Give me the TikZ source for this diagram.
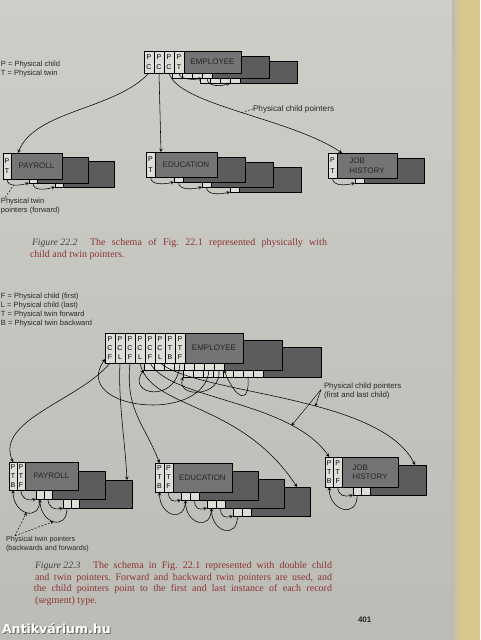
\documentclass[tikz,border=0pt]{standalone}
\usepackage{fontspec}
\setmainfont{Liberation Serif}
\setsansfont{Liberation Sans}
\newfontfamily\wmfont{DejaVu Sans}
\definecolor{pagetop}{RGB}{206,206,201}
\definecolor{pagebot}{RGB}{188,188,182}
\definecolor{band}{RGB}{216,200,142}
\definecolor{recfront}{RGB}{116,116,116}
\definecolor{recback}{RGB}{92,92,92}
\definecolor{cellfill}{RGB}{222,222,216}
\definecolor{capred}{RGB}{140,52,50}
\frenchspacing

\begin{document}
\begin{tikzpicture}[x=1pt, y=-1pt, >=stealth,
  every node/.style={inner sep=0pt, outer sep=0pt},
  cell/.style 2 args={draw=black, fill=cellfill, anchor=north west, minimum width=#1, minimum height=#2, align=center, font=\sffamily\fontsize{7}{10.5}\selectfont},
  recbox/.style 2 args={draw=black, fill=recfront, anchor=north west, minimum width=#1, minimum height=#2, align=left, text=black!85, font=\sffamily\fontsize{8}{9.5}\selectfont},
  backbox/.style={fill=recback},
  ptr/.style={->, line width=0.55pt},
  lead/.style={dashed, dash pattern=on 2pt off 1.5pt, line width=0.45pt},
  lbl/.style={anchor=base west, text=black!85, font=\sffamily\fontsize{7.5}{8.5}\selectfont},
  captext/.style={anchor=base west, text=capred, font=\fontsize{10}{11}\selectfont},
  figlabel/.style={anchor=base west, text=black!75, font=\itshape\fontsize{9.7}{11}\selectfont}]

\useasboundingbox (0,0) rectangle (480,640);
\clip (0,0) rectangle (480,640);
\shade[top color=pagetop, bottom color=pagebot] (0,0) rectangle (480,640);
\shade[left color=pagebot, right color=band] (452,0) rectangle (460,640);
\fill[band] (460,0) rectangle (480,640);

% ---------- Figure 22.2 ----------
\node[lbl] (leg1) at (1,66) {P = Physical child};
\node[lbl] (leg2) at (1,75) {T = Physical twin};

% EMPLOYEE, three occurrences
\foreach \k in {2,1} {
  \foreach \i in {1,...,4}
    \node[cell={10pt}{22pt}] (te\k\i) at ({134+10*\i+28*\k},{51+5*\k}) {};
  \node[recbox={57pt}{22pt}, backbox] (teb\k) at ({184+28*\k},{51+5*\k}) {};
}
\node[cell={10pt}{22pt}] (te01) at (144,51) {P\\C};
\node[cell={10pt}{22pt}] (te02) at (154,51) {P\\C};
\node[cell={10pt}{22pt}] (te03) at (164,51) {P\\C};
\node[cell={10pt}{22pt}] (te04) at (174,51) {P\\T};
\node[recbox={57pt}{22pt}] (teb0) at (184,51) {EMPLOYEE};
\draw[ptr] (te04.south) .. controls +(0,7) and +(-7,2) .. (te14.south west);
\draw[ptr] (te14.south) .. controls +(0,10) and +(-7,3) .. (te24.south west);

% PAYROLL
\foreach \k in {2,1} {
  \node[cell={8pt}{26pt}] (tp\k) at ({3+26*\k},{153+4*\k}) {};
  \node[recbox={51pt}{26pt}, backbox] (tpb\k) at ({11+26*\k},{153+4*\k}) {};
}
\node[cell={8pt}{26pt}] (tp0) at (3,153) {P\\T};
\node[recbox={51pt}{26pt}] (tpb0) at (11,153) {PAYROLL};
\draw[ptr] (tp0.south) .. controls +(0,9) and +(-8,2) .. (tp1.south west) coordinate[pos=0.45] (tw);
\draw[ptr] (tp1.south) .. controls +(0,9) and +(-8,2) .. (tp2.south west);
\node[lbl] (tl1) at (1,203) {Physical twin};
\node[lbl] (tl2) at (1,212) {pointers (forward)};
\draw[lead] ([xshift=4pt]tl1.north west) -- (tw);

% EDUCATION
\foreach \k in {3,2,1} {
  \node[cell={9pt}{25pt}] (td\k) at ({146+28*\k},{152+5*\k}) {};
  \node[recbox={62pt}{25pt}, backbox] (tdb\k) at ({155+28*\k},{152+5*\k}) {};
}
\node[cell={9pt}{25pt}] (td0) at (146,152) {P\\T};
\node[recbox={62pt}{25pt}] (tdb0) at (155,152) {EDUCATION};
\foreach \k/\n in {0/1,1/2,2/3}
  \draw[ptr] (td\k.south) .. controls +(0,9) and +(-8,2) .. (td\n.south west);

% JOB HISTORY
\node[cell={9pt}{25pt}] (tj1) at (355,158) {};
\node[recbox={60pt}{25pt}, backbox] (tjb1) at (364,158) {};
\node[cell={9pt}{25pt}] (tj0) at (328,153) {P\\T};
\node[recbox={60pt}{25pt}] (tjb0) at (337,153) {JOB\\HISTORY};
\draw[ptr] (tj0.south) .. controls +(0,9) and +(-8,2) .. (tj1.south west);

% child pointers
\draw[ptr] (te01.south) .. controls (115,110) and (35,110) .. ([xshift=7pt]tpb0.north west);
\draw[ptr] (te02.south) -- ([xshift=6pt]tdb0.north west);
\draw[ptr] (te03.south) .. controls (178,105) and (290,118) .. ([xshift=5pt]tjb0.north west) coordinate[pos=0.51] (cp);
\node[lbl, font=\sffamily\fontsize{8.2}{9}\selectfont] (cpl) at (253,111) {Physical child pointers};
\draw[lead] (cp) -- (cpl.west);

\node[figlabel] (f2) at (32,245) {Figure 22.2};
\node[captext] (c2a) at (90,245) {\makebox[237pt][s]{The schema of Fig. 22.1 represented physically with}};
\node[captext] (c2b) at (30,257) {child and twin pointers.};

% ---------- Figure 22.3 ----------
\node[lbl, font=\sffamily\fontsize{7.5}{9}\selectfont] (lg1) at (1,298) {F = Physical child (first)};
\node[lbl, font=\sffamily\fontsize{7.5}{9}\selectfont] (lg2) at (1,307.5) {L = Physical child (last)};
\node[lbl, font=\sffamily\fontsize{7.5}{9}\selectfont] (lg3) at (1,316.5) {T = Physical twin forward};
\node[lbl, font=\sffamily\fontsize{7.5}{9}\selectfont] (lg4) at (1,325.5) {B = Physical twin backward};

% EMPLOYEE
\foreach \k in {2,1} {
  \foreach \i in {1,...,8}
    \node[cell={10pt}{30pt}] (be\k\i) at ({95+10*\i+39*\k},{333+7*\k}) {};
  \node[recbox={58pt}{30pt}, backbox] (beb\k) at ({185+39*\k},{333+7*\k}) {};
}
\foreach \i/\ca/\cb in {1/C/F,2/C/L,3/C/F,4/C/L,5/C/F,6/C/L,7/T/B,8/T/F}
  \node[cell={10pt}{30pt}, font=\sffamily\fontsize{7}{9.3}\selectfont] (be0\i) at ({95+10*\i},333) {P\\\ca\\\cb};
\node[recbox={58pt}{30pt}] (beb0) at (185,333) {EMPLOYEE};
\draw[ptr] (be08.south) .. controls (178,405) and (125,395) .. (be11.south west);
\draw[ptr] (be17.south) .. controls (205,425) and (70,410) .. ([yshift=4pt]be01.south west);
\draw[ptr] (be18.south) .. controls (222,398) and (176,398) .. (be21.south west);
\draw[ptr] (be27.south) .. controls (250,405) and (236,400) .. (beb1.south west);

% PAYROLL
\foreach \k in {2,1} {
  \foreach \i in {1,2}
    \node[cell={8pt}{28pt}] (bp\k\i) at ({1+8*\i+27*\k},{462+9*\k}) {};
  \node[recbox={53pt}{28pt}, backbox] (bpb\k) at ({25+27*\k},{462+9*\k}) {};
}
\node[cell={8pt}{28pt}, font=\sffamily\fontsize{7}{9}\selectfont] (bp01) at (9,462) {P\\T\\B};
\node[cell={8pt}{28pt}, font=\sffamily\fontsize{7}{9}\selectfont] (bp02) at (17,462) {P\\T\\F};
\node[recbox={53pt}{28pt}] (bpb0) at (25,462) {PAYROLL};
\draw[ptr] (bp02.south) .. controls +(0,9) and +(-8,2) .. (bp11.south west);
\draw[ptr] (bp11.south) .. controls +(0,24) and +(0,24) .. (bp01.south) coordinate[pos=0.5] (r1);
\draw[ptr] (bp12.south) .. controls +(0,9) and +(-8,2) .. (bp21.south west);
\draw[ptr] (bp21.south) .. controls +(0,24) and +(0,24) .. (bp11.south) coordinate[pos=0.5] (r2);
\node[lbl, font=\sffamily\fontsize{7.2}{8}\selectfont] (tl3) at (6,541) {Physical twin pointers};
\node[lbl, font=\sffamily\fontsize{7.2}{8}\selectfont] (tl4) at (6,550) {(backwards and forwards)};
\draw[lead, ->] ([xshift=9pt]tl3.north west) -- (r1);
\draw[lead, ->] ([xshift=9pt]tl3.north west) -- (r2);

% EDUCATION
\foreach \k in {3,2,1} {
  \foreach \i in {1,2}
    \node[cell={9pt}{29pt}] (bd\k\i) at ({146+9*\i+26*\k},{463+8*\k}) {};
  \node[recbox={59pt}{29pt}, backbox] (bdb\k) at ({173+26*\k},{463+8*\k}) {};
}
\node[cell={9pt}{29pt}, font=\sffamily\fontsize{7}{9}\selectfont] (bd01) at (155,463) {P\\T\\B};
\node[cell={9pt}{29pt}, font=\sffamily\fontsize{7}{9}\selectfont] (bd02) at (164,463) {P\\T\\F};
\node[recbox={59pt}{29pt}] (bdb0) at (173,463) {EDUCATION};
\foreach \k/\n in {0/1,1/2,2/3} {
  \draw[ptr] (bd\k2.south) .. controls +(0,9) and +(-8,2) .. (bd\n1.south west);
  \draw[ptr] (bd\n1.south) .. controls +(0,24) and +(0,24) .. (bd\k1.south);
}

% JOB HISTORY
\foreach \i in {1,2}
  \node[cell={8.5pt}{30pt}] (bj1\i) at ({316.5+8.5*\i+28},465) {};
\node[recbox={56pt}{30pt}, backbox] (bjb1) at (370,465) {};
\node[cell={8.5pt}{30pt}, font=\sffamily\fontsize{7}{9.3}\selectfont] (bj01) at (325,457) {P\\T\\B};
\node[cell={8.5pt}{30pt}, font=\sffamily\fontsize{7}{9.3}\selectfont] (bj02) at (333.5,457) {P\\T\\F};
\node[recbox={56pt}{30pt}] (bjb0) at (342,457) {JOB\\HISTORY};
\draw[ptr] (bj02.south) .. controls +(0,9) and +(-8,2) .. (bj11.south west);
\draw[ptr] (bj11.south) .. controls +(0,24) and +(0,24) .. (bj01.south);

% child pointers, first and last
\draw[ptr] (be01.south) .. controls (80,400) and (-5,420) .. (bp01.north);
\draw[ptr] (be02.south) .. controls (118,400) and (125,440) .. ([xshift=-5pt]bpb2.north east);
\draw[ptr] (be03.south) .. controls (125,410) and (145,425) .. (bd01.north);
\draw[ptr] (be04.south) .. controls (150,410) and (240,400) .. ([xshift=-13pt]bdb3.north east);
\draw[ptr] (be05.south) .. controls (170,400) and (290,400) .. (bj01.north) coordinate[pos=0.77] (q1);
\draw[ptr] (be06.south) .. controls (200,395) and (380,395) .. ([xshift=-11pt]bjb1.north east) coordinate[pos=0.58] (q2);
\node[lbl, font=\sffamily\fontsize{7.8}{9}\selectfont] (cl1) at (324,388) {Physical child pointers};
\node[lbl, font=\sffamily\fontsize{7.8}{9}\selectfont] (cl2) at (324,397) {(first and last child)};
\draw[->, line width=0.45pt] ([xshift=-3pt]cl1.south west) -- (q1);
\draw[->, line width=0.45pt] ([xshift=-3pt]cl1.south west) -- (q2);

\node[figlabel] (f3) at (35,568) {Figure 22.3};
\node[captext] (c3a) at (93,568) {\makebox[239pt][s]{The schema in Fig. 22.1 represented with double child}};
\node[captext] (c3b) at (35,580) {\makebox[297pt][s]{and twin pointers. Forward and backward twin pointers are used, and}};
\node[captext] (c3c) at (34,591) {\makebox[298pt][s]{the child pointers point to the first and last instance of each record}};
\node[captext] (c3d) at (35,603) {(segment) type.};

\node[anchor=base west, text=black!85, font=\sffamily\bfseries\fontsize{8}{9}\selectfont] (pg) at (358,622) {401};
\node[anchor=base west, text=black!60, font=\wmfont\bfseries\fontsize{12.5}{14}\selectfont] (wms) at (3,634) {Antikvárium.hu};
\node[anchor=base west, text=white, font=\wmfont\bfseries\fontsize{12.5}{14}\selectfont] (wm) at (2,633) {Antikvárium.hu};
\end{tikzpicture}
\end{document}
